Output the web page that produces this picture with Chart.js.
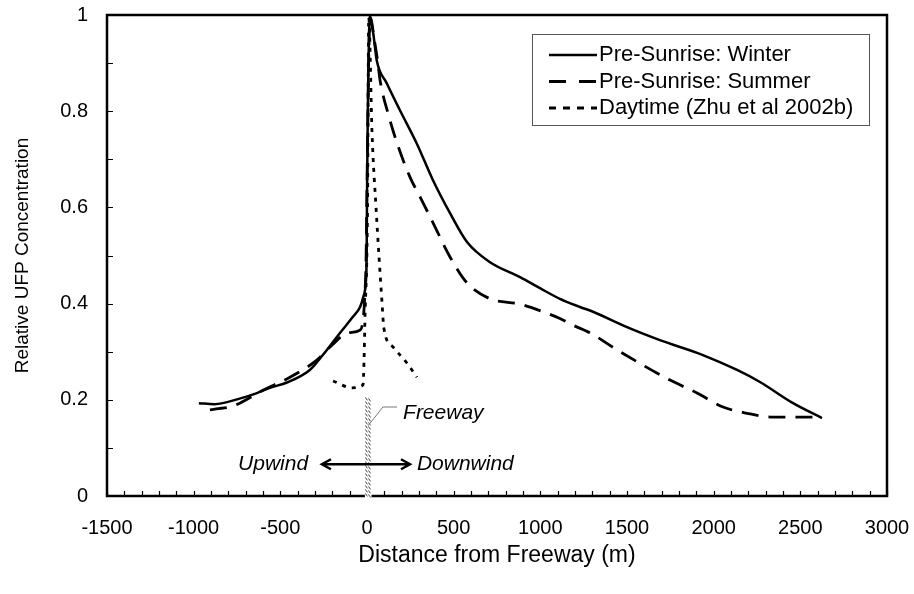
<!DOCTYPE html>
<html>
<head>
<meta charset="utf-8">
<script src="https://cdn.jsdelivr.net/npm/chart.js@4.4.1/dist/chart.umd.min.js"></script>
<style>
    html, body { margin: 0; padding: 0; background: #fff; }
</style>
</head>
<body>
<canvas id="ufpChart" width="914" height="594"></canvas>
<script>
// data
var seriesLabels = ['Pre-Sunrise: Winter', 'Pre-Sunrise: Summer', 'Daytime (Zhu et al 2002b)'];

var winterX = [-970, -880, -730, -635, -560, -462, -330, -255, -156, -80, -40, -21, -8, -2, 0, 17, 36, 56, 114, 190, 287, 380, 479, 577, 710, 883, 998, 1113, 1229, 1304, 1500, 1690, 1938, 2135, 2267, 2458, 2625];
var winterY = [0.193, 0.191, 0.203, 0.214, 0.225, 0.236, 0.262, 0.293, 0.339, 0.373, 0.393, 0.414, 0.44, 0.5, 0.62, 0.996, 0.962, 0.906, 0.858, 0.802, 0.733, 0.657, 0.588, 0.528, 0.486, 0.455, 0.432, 0.41, 0.393, 0.383, 0.351, 0.324, 0.293, 0.262, 0.237, 0.193, 0.162];

var summerX = [-906, -870, -773, -600, -444, -288, -213, -110, -40, -25, -14, -5, 0, 17, 46, 63, 75, 121, 173, 248, 306, 381, 479, 577, 710, 883, 1015, 1113, 1183, 1287, 1442, 1592, 1748, 1904, 2054, 2192, 2342, 2625];
var summerY = [0.179, 0.181, 0.187, 0.22, 0.247, 0.283, 0.31, 0.339, 0.345, 0.36, 0.407, 0.5, 0.65, 0.996, 0.94, 0.9, 0.865, 0.796, 0.734, 0.663, 0.622, 0.568, 0.497, 0.443, 0.41, 0.399, 0.383, 0.369, 0.356, 0.339, 0.304, 0.272, 0.241, 0.214, 0.185, 0.172, 0.164, 0.164];

var dayX = [-196, -87, -23, -17, -12, 3, 10, 29, 52, 87, 97, 150, 231, 288];
var dayY = [0.239, 0.225, 0.231, 0.283, 0.366, 0.6, 0.995, 0.755, 0.6, 0.4, 0.35, 0.31, 0.276, 0.247];

var xTickValues = [-1500, -1000, -500, 0, 500, 1000, 1500, 2000, 2500, 3000];
var yTickValues = [0, 0.2, 0.4, 0.6, 0.8, 1];

var FONT = "'Liberation Sans', Arial, sans-serif";

function toPoints(xs, ys) {
    return xs.map(function (x, i) { return { x: x, y: ys[i] }; });
}

// frame, minor ticks, freeway band, arrows and the legend box
var decorations = {
    id: 'decorations',
    afterDatasetsDraw: function (chart) {
        var ctx = chart.ctx, area = chart.chartArea;
        var xs = chart.scales.x, ys = chart.scales.y;
        ctx.save();

        // small inward ticks
        ctx.strokeStyle = '#000';
        ctx.lineWidth = 1.2;
        ctx.beginPath();
        for (var v = xs.min; v <= xs.max; v += 100) {
            var px = Math.round(xs.getPixelForValue(v)) + 0.5;
            ctx.moveTo(px, area.bottom);
            ctx.lineTo(px, area.bottom - 5);
        }
        for (var k = 0; k <= 10; k++) {
            var py = Math.round(ys.getPixelForValue(k / 10)) + 0.5;
            ctx.moveTo(area.left, py);
            ctx.lineTo(area.left + 6, py);
        }
        ctx.stroke();

        // plot frame
        ctx.lineWidth = 2.5;
        ctx.strokeRect(area.left, area.top, area.right - area.left, area.bottom - area.top);

        // freeway band
        var bx0 = xs.getPixelForValue(-12), bx1 = xs.getPixelForValue(26);
        var by0 = ys.getPixelForValue(0.205), by1 = area.bottom + 2;
        ctx.fillStyle = '#fff';
        ctx.fillRect(bx0, by0, bx1 - bx0, by1 - by0);
        ctx.strokeStyle = '#444';
        ctx.lineWidth = 1;
        ctx.beginPath();
        for (var yy = by0; yy < by1 - 2; yy += 4) {
            ctx.moveTo(bx0 + 0.5, yy);
            ctx.lineTo(bx0 + 2.5, yy + 3);
            ctx.moveTo(bx1 - 3, yy + 1);
            ctx.lineTo(bx1 - 1, yy + 4);
        }
        ctx.stroke();

        // leader line to "Freeway"
        ctx.strokeStyle = '#777';
        ctx.beginPath();
        ctx.moveTo(xs.getPixelForValue(6), ys.getPixelForValue(0.146));
        ctx.lineTo(xs.getPixelForValue(92), ys.getPixelForValue(0.185));
        ctx.lineTo(xs.getPixelForValue(173), ys.getPixelForValue(0.185));
        ctx.stroke();

        ctx.fillStyle = '#000';
        ctx.font = 'italic 21px ' + FONT;
        ctx.textBaseline = 'middle';
        ctx.textAlign = 'left';
        ctx.fillText('Freeway', xs.getPixelForValue(208), ys.getPixelForValue(0.172));

        // upwind / downwind arrow
        var ay = ys.getPixelForValue(0.066);
        var ax0 = xs.getPixelForValue(-260), ax1 = xs.getPixelForValue(248);
        ctx.strokeStyle = '#000';
        ctx.lineWidth = 2.5;
        ctx.beginPath();
        ctx.moveTo(ax0, ay); ctx.lineTo(ax1, ay);
        ctx.moveTo(ax0 + 9, ay - 5); ctx.lineTo(ax0, ay); ctx.lineTo(ax0 + 9, ay + 5);
        ctx.moveTo(ax1 - 9, ay - 5); ctx.lineTo(ax1, ay); ctx.lineTo(ax1 - 9, ay + 5);
        ctx.stroke();
        ctx.textAlign = 'right';
        ctx.fillText('Upwind', xs.getPixelForValue(-340), ay);
        ctx.textAlign = 'left';
        ctx.fillText('Downwind', xs.getPixelForValue(288), ay);

        // legend
        var lx = area.right - 355, ly = area.top + 19;
        ctx.strokeStyle = '#555';
        ctx.lineWidth = 1;
        ctx.strokeRect(lx + 0.5, ly + 0.5, 337, 91);
        ctx.font = '22px ' + FONT;
        chart.data.datasets.forEach(function (ds, i) {
            var rowY = ly + 21 + i * 26.5;
            ctx.strokeStyle = '#000';
            ctx.lineWidth = ds.borderWidth;
            ctx.setLineDash(ds.legendDash || []);
            ctx.beginPath();
            ctx.moveTo(lx + 17, rowY);
            ctx.lineTo(lx + 65, rowY);
            ctx.stroke();
            ctx.setLineDash([]);
            ctx.fillText(ds.label, lx + 67, rowY);
        });
        ctx.restore();
    }
};

var ctx = document.getElementById('ufpChart').getContext('2d');
var ufpChart = new Chart(ctx, {
    type: 'line',
    data: {
        datasets: [{
            label: seriesLabels[0],
            data: toPoints(winterX, winterY),
            borderColor: '#000',
            borderWidth: 2.5,
            cubicInterpolationMode: 'monotone',
            pointRadius: 0
        }, {
            label: seriesLabels[1],
            data: toPoints(summerX, summerY),
            borderColor: '#000',
            borderWidth: 2.8,
            borderDash: [17, 10],
            legendDash: [17, 13],
            cubicInterpolationMode: 'monotone',
            pointRadius: 0
        }, {
            label: seriesLabels[2],
            data: toPoints(dayX, dayY),
            borderColor: '#000',
            borderWidth: 2.8,
            borderDash: [4, 6],
            legendDash: [7, 7],
            cubicInterpolationMode: 'monotone',
            pointRadius: 0
        }]
    },
    options: {
        responsive: false,
        animation: false,
        layout: { padding: { top: 15, right: 27, left: 0, bottom: 0 } },
        plugins: {
            legend: { display: false },
            tooltip: { enabled: false }
        },
        scales: {
            x: {
                type: 'linear',
                min: -1500,
                max: 3000,
                afterBuildTicks: function (scale) {
                    scale.ticks = xTickValues.map(function (v) { return { value: v }; });
                },
                afterFit: function (scale) {
                    scale.height = 98;
                    scale.paddingLeft = 0;
                    scale.paddingRight = 0;
                },
                grid: { display: false, drawTicks: false },
                border: { display: false },
                ticks: {
                    autoSkip: false,
                    maxRotation: 0,
                    padding: 20,
                    color: '#000',
                    font: { family: FONT, size: 20 },
                    callback: function (v) { return String(v); }
                },
                title: {
                    display: true,
                    text: 'Distance from Freeway (m)',
                    color: '#000',
                    font: { family: FONT, size: 23 },
                    padding: { top: 0, bottom: 25 }
                }
            },
            y: {
                min: 0,
                max: 1,
                afterBuildTicks: function (scale) {
                    scale.ticks = yTickValues.map(function (v) { return { value: v }; });
                },
                afterFit: function (scale) {
                    scale.width = 107;
                    scale.paddingTop = 0;
                    scale.paddingBottom = 0;
                },
                grid: { display: false, drawTicks: false },
                border: { display: false },
                ticks: {
                    padding: 19,
                    color: '#000',
                    font: { family: FONT, size: 20 },
                    callback: function (v) { return String(v); }
                },
                title: {
                    display: true,
                    text: 'Relative UFP Concentration',
                    color: '#000',
                    font: { family: FONT, size: 19 },
                    padding: { top: 11, bottom: 0 }
                }
            }
        }
    },
    plugins: [decorations]
});
</script>
</body>
</html>
